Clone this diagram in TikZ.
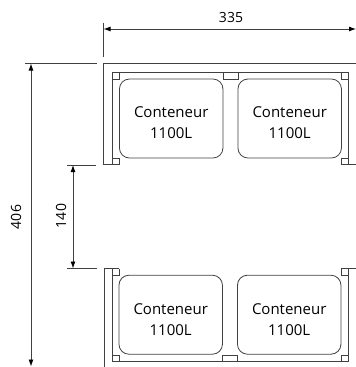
\documentclass[tikz,border=0pt]{standalone}
\usepackage{fontspec}
\setmainfont{Open Sans}
\definecolor{ln}{gray}{0.25}
\usetikzlibrary{arrows.meta}
\tikzset{
  wall/.style={draw=ln,line width=0.9pt},
  thin wall/.style={draw=ln,line width=0.8pt},
  bin/.style={draw=ln,line width=0.8pt,rounded corners=10pt,minimum width=103.5pt,minimum height=79pt,inner sep=0pt},
  binlabel/.style={inner sep=0pt,align=center,font=\fontsize{15}{20.5}\selectfont,text=black},
  dim/.style={draw=ln,line width=0.9pt,{Latex[length=7pt,width=5pt,black]}-{Latex[length=7pt,width=5pt,black]}},
  dimlabel/.style={font=\fontsize{14}{15}\selectfont,text=black,inner sep=0pt}
}
\begin{document}
\begin{tikzpicture}[x=1pt,y=-1pt]
\useasboundingbox (0,0) rectangle (356,367);
% containers
\node[bin] (c1) at (171.2,118.5) {};
\node[bin] (c2) at (289.7,118.5) {};
\node[bin] (c3) at (170.7,314.7) {};
\node[bin] (c4) at (289.2,314.7) {};
\node[binlabel] (l1) at ([yshift=-4pt]c1.center) {Conteneur\\1100L};
\node[binlabel] (l2) at ([yshift=-4pt]c2.center) {Conteneur\\1100L};
\node[binlabel] (l3) at ([yshift=-5pt]c3.center) {Conteneur\\1100L};
\node[binlabel] (l4) at ([yshift=-5pt]c4.center) {Conteneur\\1100L};
% top unit
\draw[wall] (356,63.5) -- (103.5,63.5) -- (103.5,164.5) -- (119,164.5);
\draw[thin wall] (112,164.5) -- (112,72) -- (348,72) -- (348,164.5);
\draw[thin wall] (112,79) -- (119,79) -- (119,72);
\draw[thin wall] (112,158) -- (119,158) -- (119,164.5);
\draw[thin wall] (223.5,72) -- (223.5,79) -- (238,79) -- (238,72);
\draw[thin wall] (348,79) -- (341,79) -- (341,72);
\draw[thin wall] (356,164.5) -- (341,164.5) -- (341,158) -- (348,158);
% bottom unit
\draw[wall] (104,367) -- (104,268.5) -- (119,268.5);
\draw[thin wall] (112,268.5) -- (112,361) -- (348,361) -- (348,268.5);
\draw[thin wall] (112,275) -- (119,275) -- (119,268.5);
\draw[thin wall] (112,355) -- (119,355) -- (119,361);
\draw[thin wall] (222.5,361) -- (222.5,355) -- (237,355) -- (237,361);
\draw[thin wall] (348,355) -- (341,355) -- (341,361);
\draw[thin wall] (356,268.5) -- (341,268.5) -- (341,275) -- (348,275);
% dimension 335
\coordinate (w1a) at (103.5,23); \coordinate (w1b) at (103.5,57);
\coordinate (wl) at (103.5,29); \coordinate (wr) at (356,29);
\draw[wall] (w1a) -- (w1b);
\draw[dim] (wl) -- (wr);
\node[dimlabel] (t335) at (231,17) {335};
% dimension 406
\coordinate (ha) at (25,63.5); \coordinate (hb) at (97,63.5);
\coordinate (ht) at (31,63.5); \coordinate (hd) at (31,366.5);
\draw[wall] (ha) -- (hb);
\draw[dim] (ht) -- (hd);
\node[dimlabel,rotate=90] (t406) at (16,217) {406};
% dimension 140
\coordinate (ga) at (67,165); \coordinate (gb) at (96,165);
\coordinate (gc) at (67,268.5); \coordinate (gd) at (97,268.5);
\coordinate (gt) at (73,165); \coordinate (gu) at (73,268.5);
\draw[wall] (ga) -- (gb);
\draw[wall] (gc) -- (gd);
\draw[dim] (gt) -- (gu);
\node[dimlabel,rotate=90] (t140) at (61,216) {140};
\end{tikzpicture}
\end{document}
